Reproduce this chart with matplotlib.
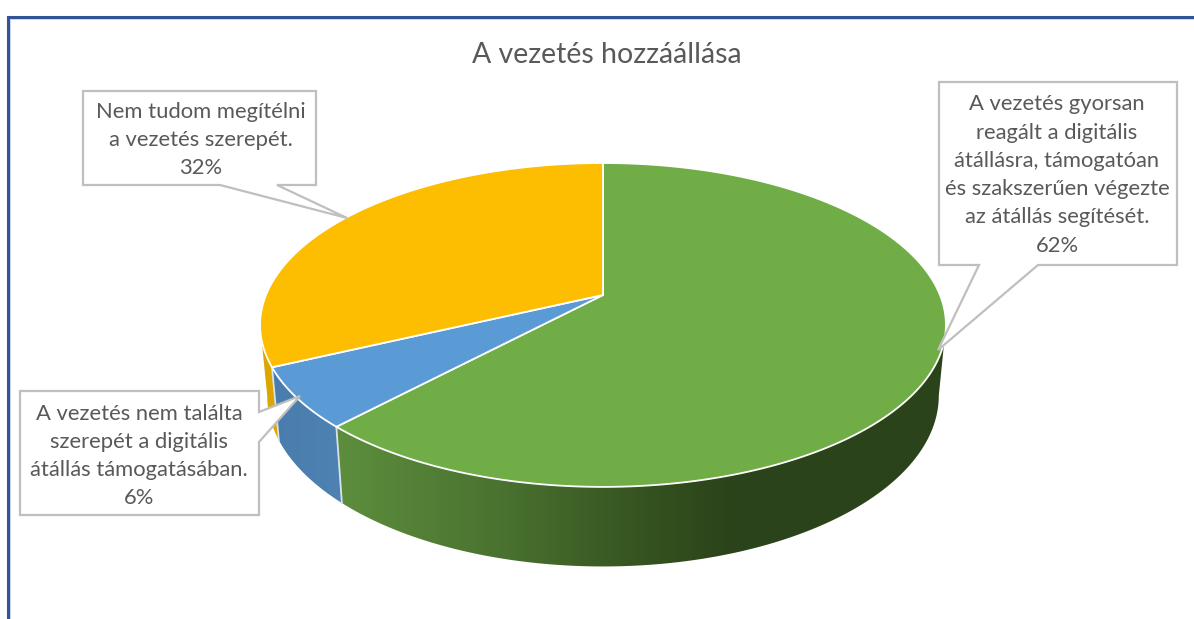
import numpy as np
import matplotlib
matplotlib.use("Agg")
import matplotlib.pyplot as plt
from matplotlib.colors import to_rgb
from matplotlib.patches import Polygon

plt.rcParams['font.family'] = ['Lato', 'DejaVu Sans']

# Data
shares = [62, 6, 32]
labels = ["A vezetés gyorsan\nreagált a digitális\nátállásra, támogatóan\nés szakszerűen végezte\naz átállás segítését.\n62%",
          "A vezetés nem találta\nszerepét a digitális\nátállás támogatásában.\n6%",
          "Nem tudom megítélni\na vezetés szerepét.\n32%"]
title = "A vezetés hozzáállása"
top_colors = ["#70ad47", "#5b9bd5", "#fdbd00"]

# side shading, x pixel -> colour
green_x = [343, 500, 650, 730, 950]
green_c = ["#5c8d3c", "#4a7230", "#34521f", "#2b431a", "#2b431a"]
blue_x = [270, 345]
blue_c = ["#4a7dac", "#4d82b3"]
orange_x = [255, 290]
orange_c = ["#dca600", "#dca600"]
side_ramps = [(green_x, green_c), (blue_x, blue_c), (orange_x, orange_c)]

TEXT = "#595959"
BOX = "#bfbfbf"

# Perspective of the pie (pixels)
CX = 603
TILT = 0.185


def top_xy(theta):
    u, v = np.sin(theta), np.cos(theta)
    w = 1 + TILT * v
    return CX + 337 * u / w, 295 - 156.4 * v / w


def bottom_xy(theta):
    u, v = np.sin(theta), np.cos(theta)
    w = 1 + TILT * v
    return CX + 330 * u / w, 364 - 165 * v / w


def ramp(x, xs, cs):
    rgb = np.array([to_rgb(c) for c in cs])
    return np.stack([np.interp(x, xs, rgb[:, i]) for i in range(3)], axis=-1)


fig = plt.figure(figsize=(11.94, 6.19), dpi=100)
ax = fig.add_axes([0, 0, 1, 1])
ax.axis('off')

# frame
ax.plot([7.5, 7.5, 1194], [619, 16.5, 16.5], color="#2f5597", lw=2.2, solid_joinstyle='miter', zorder=1)
ax.plot([10, 10, 1194], [619, 18.7, 18.7], color="#c9d6ea", lw=0.7, zorder=1)

edges = np.cumsum([0] + shares) / sum(shares) * 2 * np.pi
# only the front of the wall shows, between the two tangent points
front = np.arccos(-TILT)

# side walls, gradient clipped to each slice wall
for i in range(len(shares)):
    start = max(edges[i], front)
    end = min(edges[i + 1], 2 * np.pi - front)
    th = np.linspace(start, end, 200)
    xt, yt = top_xy(th)
    xb, yb = bottom_xy(th)
    wall = Polygon(np.c_[np.r_[xt, xb[::-1]], np.r_[yt, yb[::-1]]], closed=True, transform=ax.transData)
    xs = np.arange(240, 960)
    img = ramp(xs, *side_ramps[i])[np.newaxis, :, :]
    im = ax.imshow(img, extent=(240, 960, 600, 150), aspect='auto', interpolation='bilinear', zorder=2)
    im.set_clip_path(wall)

ax.set_xlim(0, 1194)
ax.set_ylim(619, 0)

# seams on the side
for e in edges[1:3]:
    xt, yt = top_xy(e)
    xb, yb = bottom_xy(e)
    ax.plot([xt, xb], [yt, yb], color="#d9e2ea", lw=1.3, zorder=3)

# top face
for i in range(len(shares)):
    th = np.linspace(edges[i], edges[i + 1], 200)
    xt, yt = top_xy(th)
    ax.fill(np.r_[CX, xt], np.r_[295, yt], facecolor=top_colors[i], edgecolor="white", lw=1.3,
            joinstyle='round', zorder=4)

# callouts
callouts = [
    ([939, 1177, 1177, 1038, 938, 979, 939, 939], [82, 82, 265, 265, 350, 265, 265, 82], (1057, 175)),
    ([20, 259, 259, 300, 259, 259, 20, 20], [391, 391, 412, 396, 442, 515, 515, 391], (139, 456)),
    ([83, 316, 316, 277, 347, 220, 83, 83], [91, 91, 185, 185, 218, 185, 185, 91], (201, 140)),
]
for lab, (bx, by, pos) in zip(labels, callouts):
    ax.fill(bx, by, facecolor="white", edgecolor=BOX, lw=1.6, joinstyle='miter', zorder=5)
    ax.text(pos[0], pos[1], lab, ha='center', va='center', color=TEXT, fontsize=15.8,
            linespacing=1.52, zorder=6)

ax.text(607, 55, title, ha='center', va='center', color=TEXT, fontsize=20.5, zorder=6)

fig.savefig("out.png", dpi=100, facecolor="white")
